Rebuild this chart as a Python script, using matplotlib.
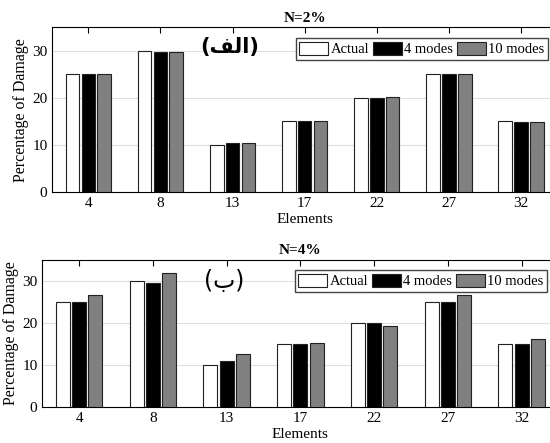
import numpy as np
import matplotlib
matplotlib.use("Agg")
import matplotlib.pyplot as plt

plt.rcParams["font.family"] = ["Liberation Serif", "DejaVu Serif"]

elements = ["4", "8", "13", "17", "22", "27", "32"]
series_names = ["Actual", "4 modes", "10 modes"]
colors = ["white", "black", "#808080"]

# N=2%
actual_2 = [25, 30, 10, 15, 20, 25, 15]
modes4_2 = [25, 29.8, 10.5, 15.1, 20.0, 25.0, 14.9]
modes10_2 = [25, 29.8, 10.5, 15.1, 20.1, 25.0, 14.9]

# N=4%
actual_4 = [25, 30, 10, 15, 20, 25, 15]
modes4_4 = [25, 29.5, 11.0, 15.1, 20.0, 24.9, 14.9]
modes10_4 = [26.6, 31.8, 12.5, 15.3, 19.3, 26.6, 16.1]

# arabic labels written in visual order with presentation forms
label_a = "(" + "\ufed2\ufedf\ufe8d" + ")"
label_b = "(" + "\ufe8f" + ")"

fig = plt.figure(figsize=(5.5, 4.43), dpi=100)
# right spine falls just past the figure edge, as in the original crop
ax1 = fig.add_axes([0.0951, 0.5666, 0.9176, 0.3718])
ax2 = fig.add_axes([0.0769, 0.0813, 0.9387, 0.3318])

x = np.arange(1, len(elements) + 1)
offsets = [-0.22, 0.0, 0.22]
width = 0.19


def draw(ax, data, title, tag, tag_pos, tag_size, leg_anchor, tag_bold):
    for vals, off, c, name in zip(data, offsets, colors, series_names):
        ax.bar(x + off, vals, width, color=c, edgecolor="#222222",
               linewidth=0.8, label=name, zorder=3)
    ax.set_xlim(0.5, 7.5)
    ax.set_ylim(0, 35)
    ax.set_xticks(x)
    ax.set_xticklabels(elements, fontsize=11)
    ax.set_yticks([0, 10, 20, 30])
    ax.tick_params(axis="y", labelsize=11, direction="in", length=0)
    ax.tick_params(axis="x", direction="in", top=True, length=4)
    ax.grid(axis="y", color="#e0e0e0", linewidth=0.8, zorder=0)
    ax.set_axisbelow(True)
    ax.spines["right"].set_visible(False)
    ax.set_ylabel("Percentage of Damage", fontsize=11.5, labelpad=2)
    ax.set_xlabel("Elements", fontsize=11, labelpad=2)
    ax.set_title(title, fontsize=11, fontweight="bold", pad=4)
    ax.text(tag_pos[0], tag_pos[1], tag, transform=ax.transAxes,
            ha="center", va="center", fontsize=tag_size,
            fontweight="bold" if tag_bold else "normal",
            family=["DejaVu Sans"])
    ax.legend(loc="upper right", bbox_to_anchor=leg_anchor, ncol=3,
              fontsize=10.5, frameon=True, fancybox=False,
              edgecolor="#444444", handlelength=2.0, handleheight=1.0,
              handletextpad=0.15, columnspacing=0.25, borderpad=0.25,
              borderaxespad=0.0, framealpha=1.0)


draw(ax1, [actual_2, modes4_2, modes10_2], "N=2%", label_a,
     (0.352, 0.88), 15, (0.982, 0.935), True)
draw(ax2, [actual_4, modes4_4, modes10_4], "N=4%", label_b,
     (0.352, 0.857), 17, (0.9775, 0.932), False)

fig.savefig("out.png", dpi=100)
